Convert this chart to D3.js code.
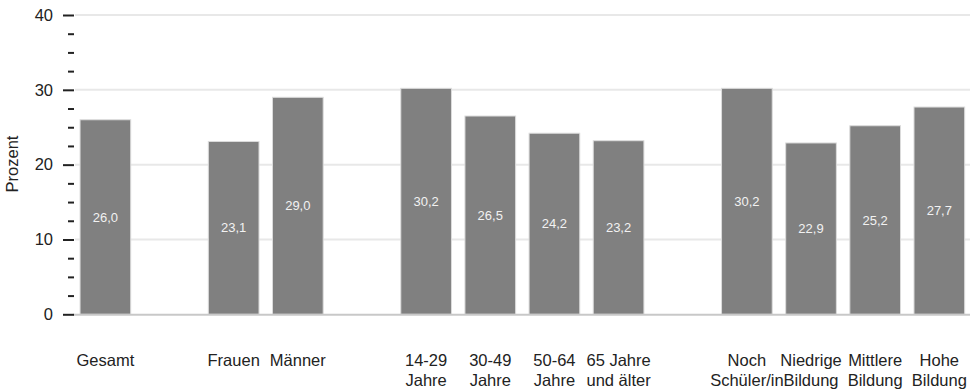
<!DOCTYPE html>
<html>
<head>
<meta charset="utf-8">
<script src="https://cdn.jsdelivr.net/npm/d3@7"></script>
<style>
  html, body { margin: 0; padding: 0; background: #fff; }
  svg { display: block; font-family: "Liberation Sans", Arial, sans-serif; }
</style>
</head>
<body>
<svg id="chart" width="970" height="391"></svg>
<script>
// Categories (empty strings are spacer slots between groups)
const categories = ["Gesamt", "", "Frauen", "Männer", "", "14-29\nJahre", "30-49\nJahre", "50-64\nJahre", "65 Jahre\nund älter", "", "Noch\nSchüler/in", "Niedrige\nBildung", "Mittlere\nBildung", "Hohe\nBildung"];
const values = [26.0, null, 23.1, 29.0, null, 30.2, 26.5, 24.2, 23.2, null, 30.2, 22.9, 25.2, 27.7];
const majorTicks = [0, 10, 20, 30, 40];
const minorTicks = [2.5, 5, 7.5, 12.5, 15, 17.5, 22.5, 25, 27.5, 32.5, 35, 37.5];
const yTitle = "Prozent";

const svg = d3.select("#chart");
const W = 970;

const x = d3.scaleBand()
  .domain(d3.range(categories.length))
  .range([73.3, 971.4])
  .paddingInner(0.21)
  .paddingOuter(0.105);

const y = d3.scaleLinear().domain([0, 40]).range([314.3, 15]);

const axisX = 74;

// gridlines
svg.append("g")
  .selectAll("line")
  .data(majorTicks.filter(d => d > 0))
  .join("line")
  .attr("x1", axisX + 1).attr("x2", W)
  .attr("y1", d => y(d)).attr("y2", d => y(d))
  .attr("stroke", "#e8e8e8").attr("stroke-width", 2);

// bars
const barData = values.map((v, i) => ({ i, v })).filter(d => d.v !== null);
svg.append("g")
  .selectAll("rect")
  .data(barData)
  .join("rect")
  .attr("x", d => x(d.i))
  .attr("width", x.bandwidth())
  .attr("y", d => y(d.v))
  .attr("height", d => y(0) - y(d.v))
  .attr("fill", "#808080")
  .attr("stroke", "#dcdcdc")
  .attr("stroke-width", 1);

// baseline
svg.append("line")
  .attr("x1", axisX - 1).attr("x2", W)
  .attr("y1", y(0) + 0.5).attr("y2", y(0) + 0.5)
  .attr("stroke", "#c8c8c8").attr("stroke-width", 2);

// value labels
svg.append("g")
  .selectAll("text")
  .data(barData)
  .join("text")
  .attr("x", d => x(d.i) + x.bandwidth() / 2)
  .attr("y", d => (y(d.v) + y(0)) / 2)
  .attr("dy", "0.35em")
  .attr("text-anchor", "middle")
  .attr("font-size", 13)
  .attr("fill", "#f2f2f2")
  .text(d => d3.format(".1f")(d.v).replace(".", ","));

// y axis major
const yAxis = d3.axisLeft(y).tickValues(majorTicks).tickSize(11).tickPadding(10).tickFormat(d3.format("d"));
const gy = svg.append("g").attr("transform", `translate(${axisX},0)`).call(yAxis);
gy.select(".domain").remove();
gy.selectAll(".tick line").attr("stroke", "#222").attr("stroke-width", 2);
gy.selectAll(".tick text").attr("font-size", 16.5).attr("fill", "#222")
  .attr("font-family", "'Liberation Sans', Arial, sans-serif");

// y axis minor
const yMinor = d3.axisLeft(y).tickValues(minorTicks).tickSize(6).tickFormat("");
const gm = svg.append("g").attr("transform", `translate(${axisX},0)`).call(yMinor);
gm.select(".domain").remove();
gm.selectAll(".tick line").attr("stroke", "#222").attr("stroke-width", 2);

// y title
svg.append("text")
  .attr("transform", `translate(18,164) rotate(-90)`)
  .attr("text-anchor", "middle")
  .attr("font-size", 16.5)
  .attr("fill", "#222")
  .text(yTitle);

// category labels
const gl = svg.append("g");
categories.forEach((c, i) => {
  if (!c) return;
  const lines = c.split("\n");
  const t = gl.append("text")
    .attr("x", x(i) + x.bandwidth() / 2)
    .attr("y", 366)
    .attr("text-anchor", "middle")
    .attr("font-size", 16.5)
    .attr("fill", "#222");
  lines.forEach((ln, k) => {
    t.append("tspan")
      .attr("x", x(i) + x.bandwidth() / 2)
      .attr("y", 366 + k * 20)
      .text(ln);
  });
});
</script>
</body>
</html>
